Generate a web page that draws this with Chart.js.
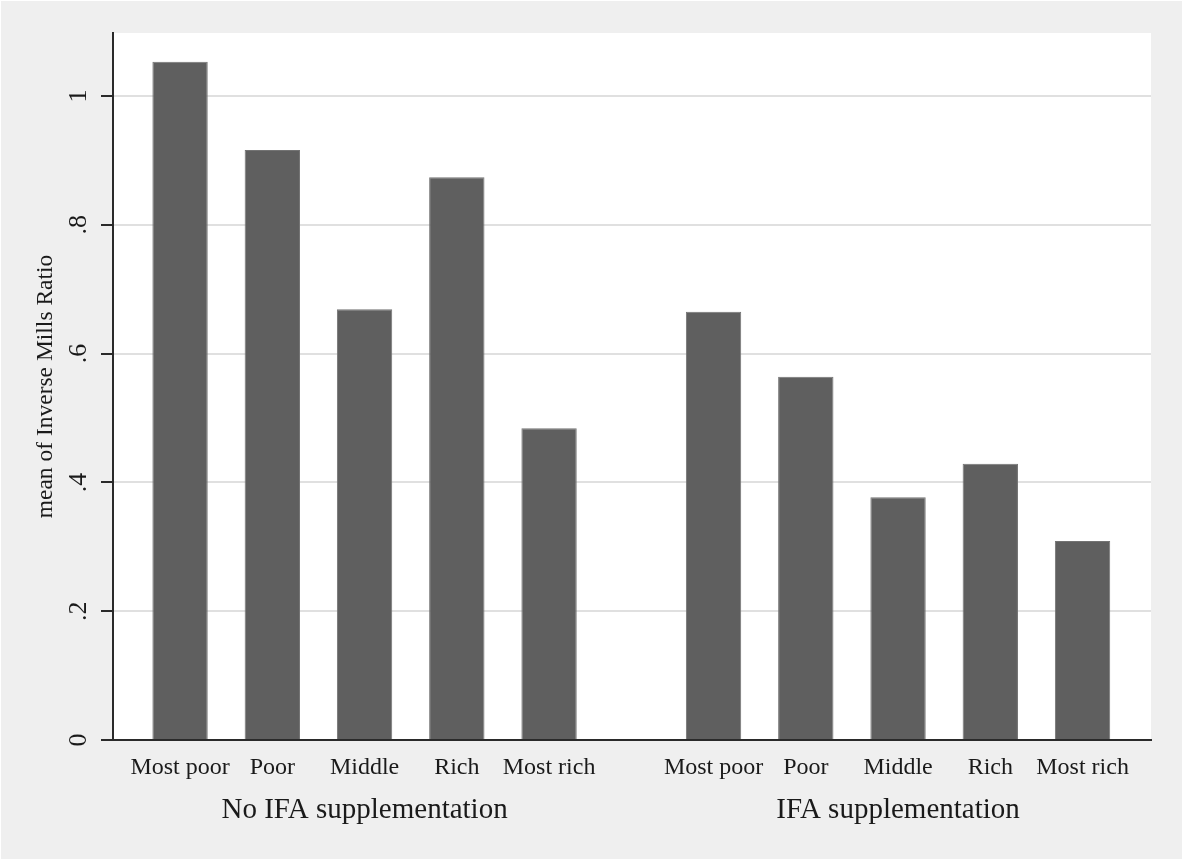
<!DOCTYPE html>
<html>
<head>
<meta charset="utf-8">
<script src="https://cdn.jsdelivr.net/npm/chart.js@4/dist/chart.umd.min.js"></script>
<style>
  html, body { margin: 0; padding: 0; background: #ffffff; }
  #wrap { position: absolute; left: 0; top: 0; width: 1184px; height: 861px; }
</style>
</head>
<body>
<div id="wrap"><canvas id="c" width="1184" height="861"></canvas></div>
<script>
// ---- data ----
const groups = ['No IFA supplementation', 'IFA supplementation'];
const categories = ['Most poor', 'Poor', 'Middle', 'Rich', 'Most rich'];
const noIfaValues = [1.053, 0.916, 0.669, 0.874, 0.484];
const ifaValues = [0.665, 0.564, 0.377, 0.429, 0.309];
const yTicks = [0, 0.2, 0.4, 0.6, 0.8, 1];
const yTickLabels = ['0', '.2', '.4', '.6', '.8', '1'];
const yTitle = 'mean of Inverse Mills Ratio';

// ---- layout helpers (positions derived from category / group index) ----
const groupGap = 1.783;              // extra space between the two groups, in bar-slot units
const groupStride = categories.length - 1 + groupGap;
function slot(g, i) { return g * groupStride + i; }
const xMin = -0.727;
const xMax = slot(1, categories.length - 1) + 0.742;

const seriesByGroup = [noIfaValues, ifaValues];
const points = [];
const tickPos = [];
const tickText = [];
seriesByGroup.forEach((vals, g) => {
  vals.forEach((v, i) => {
    points.push({ x: slot(g, i), y: v });
    tickPos.push(slot(g, i));
    tickText.push(categories[i]);
  });
});
const groupPos = groups.map((_, g) => slot(g, (categories.length - 1) / 2));

const FONT = "'Liberation Serif', 'Times New Roman', serif";
const TEXT = '#1a1a1a';
const AXIS = '#2a2a2a';

const bgPlugin = {
  id: 'bg',
  beforeDraw(chart) {
    const { ctx, chartArea: a } = chart;
    ctx.save();
    ctx.fillStyle = '#ffffff';
    ctx.fillRect(0, 0, chart.width, chart.height);
    ctx.fillStyle = '#efefef';
    ctx.fillRect(1, 1, 1181, 858);
    ctx.fillStyle = '#ffffff';
    ctx.fillRect(a.left, a.top, a.right - a.left, a.bottom - a.top);
    ctx.restore();
  }
};

new Chart(document.getElementById('c'), {
  type: 'bar',
  data: {
    datasets: [{
      data: points,
      backgroundColor: '#5f5f5f',
      borderColor: '#737373',
      borderWidth: 1,
      categoryPercentage: 1,
      barPercentage: 0.6
    }]
  },
  plugins: [bgPlugin],
  options: {
    responsive: false,
    devicePixelRatio: 1,
    animation: false,
    layout: { padding: { top: 33, right: 33, left: 0, bottom: 0 } },
    plugins: { legend: { display: false }, tooltip: { enabled: false } },
    scales: {
      x: {
        type: 'linear',
        position: 'bottom',
        weight: 0,
        offset: false,
        min: xMin,
        max: xMax,
        bounds: 'data',
        grid: { display: false, drawTicks: false, offset: false },
        border: { display: true, color: AXIS, width: 2 },
        afterBuildTicks(s) { s.ticks = tickPos.map(v => ({ value: v })); },
        afterFit(s) { s.height = 50; },
        ticks: {
          autoSkip: false, maxRotation: 0, minRotation: 0, padding: 13,
          color: TEXT, font: { family: FONT, size: 24 },
          callback: (v, i) => tickText[i]
        }
      },
      g: {
        type: 'linear',
        axis: 'x',
        position: 'bottom',
        weight: 1,
        offset: false,
        min: xMin,
        max: xMax,
        bounds: 'data',
        grid: { display: false, drawTicks: false, offset: false },
        border: { display: false },
        afterBuildTicks(s) { s.ticks = groupPos.map(v => ({ value: v })); },
        afterFit(s) { s.height = 71; },
        ticks: {
          autoSkip: false, maxRotation: 0, minRotation: 0, padding: 3,
          color: TEXT, font: { family: FONT, size: 29 },
          callback: (v, i) => groups[i]
        }
      },
      y: {
        type: 'linear',
        position: 'left',
        min: 0,
        max: 1.0978,
        bounds: 'data',
        grid: { color: '#e0e0e0', lineWidth: 2, tickColor: AXIS, tickWidth: 2, tickLength: 12, drawTicks: true },
        border: { display: true, color: AXIS, width: 2 },
        afterBuildTicks(s) { s.ticks = yTicks.map(v => ({ value: v })); },
        afterFit(s) { s.width = 113; },
        title: {
          display: true, text: yTitle, color: TEXT,
          font: { family: FONT, size: 23.5 }, padding: { top: 32, bottom: 0 }
        },
        ticks: {
          minRotation: 90, maxRotation: 90, crossAlign: 'center', padding: 12,
          color: TEXT, font: { family: FONT, size: 26 },
          callback: (v, i) => yTickLabels[i]
        }
      }
    }
  }
});
</script>
</body>
</html>
